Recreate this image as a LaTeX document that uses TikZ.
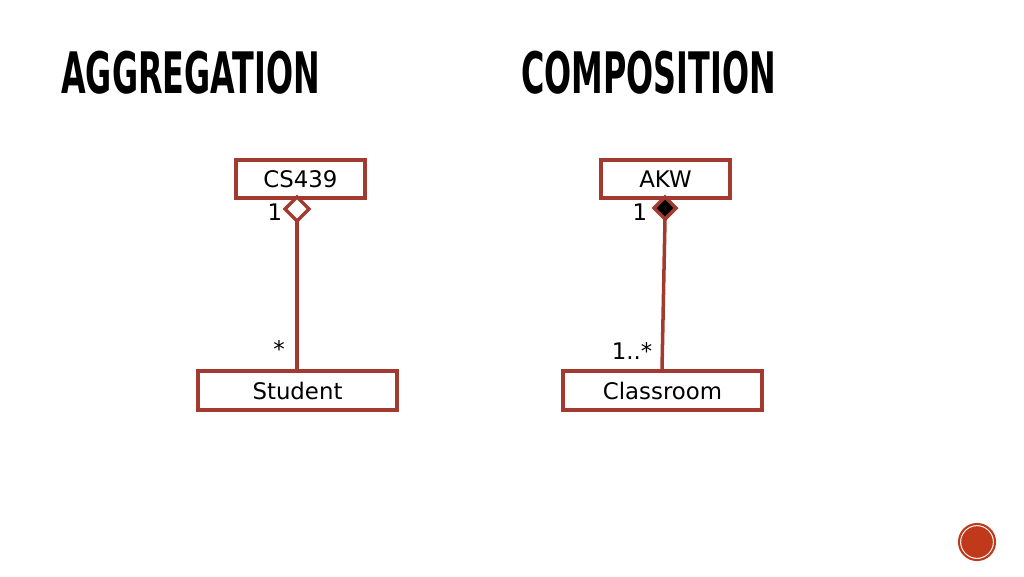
\documentclass[tikz,border=0pt]{standalone}
\usepackage{fontspec}
\setmainfont{DejaVu Sans}
\usetikzlibrary{positioning}
\definecolor{umlred}{HTML}{A33A2F}
\definecolor{dotred}{HTML}{C0391B}
\newfontfamily\titlefont{DejaVu Sans}

\begin{document}
\begin{tikzpicture}[x=0.02cm,y=-0.02cm]
  % page
  \useasboundingbox (0,0) rectangle (1024,576);
  \tikzset{
    classbox/.style={draw=umlred, line width=2pt, font=\fontsize{13}{15}\selectfont},
    assoc/.style={draw=umlred, line width=2pt},
    mult/.style={font=\fontsize{13}{15}\selectfont},
    headline/.style={anchor=west, font=\titlefont\bfseries\fontsize{31}{34}\selectfont}
  }
  % titles
  \node[headline] (aggtitle) at (55,73) {\scalebox{0.585}[1.05]{AGGREGATION}};
  \node[headline] (comptitle) at (515,73) {\scalebox{0.585}[1.05]{COMPOSITION}};

  % aggregation
  \node[classbox, minimum width=129*0.02cm, minimum height=38*0.02cm] (cs) at (300.5,179) {CS439};
  \node[classbox, minimum width=199*0.02cm, minimum height=39*0.02cm] (student) at (297.5,390.5) {Student};
  \coordinate (agg) at (297,197);
  \draw[assoc, fill=white] (agg) -- ++(12,12) -- ++(-12,12) -- ++(-12,-12) -- cycle;
  \draw[assoc] (297,221) -- (student.north -| 297,0);
  \node[mult] (aggone) at (275,212) {1};
  \node[mult] (aggstar) at (279,349) {*};

  % composition
  \node[classbox, minimum width=129*0.02cm, minimum height=38*0.02cm] (akw) at (665.5,179) {AKW};
  \node[classbox, minimum width=199*0.02cm, minimum height=39*0.02cm] (room) at (662.5,390.5) {Classroom};
  \coordinate (comp) at (665,197);
  \draw[assoc, fill=black] (comp) -- ++(11,11) -- ++(-11,11) -- ++(-11,-11) -- cycle;
  \draw[assoc] (665,219) -- (room.north -| 662,0);
  \node[mult] (compone) at (640,212) {1};
  \node[mult] (compmany) at (632,351) {1..*};

  % page dot
  \node[circle, fill=dotred, draw=white, double=dotred, double distance=1.2pt, line width=0.6pt, minimum size=36*0.02cm] (pagedot) at (977,542) {};
\end{tikzpicture}
\end{document}
